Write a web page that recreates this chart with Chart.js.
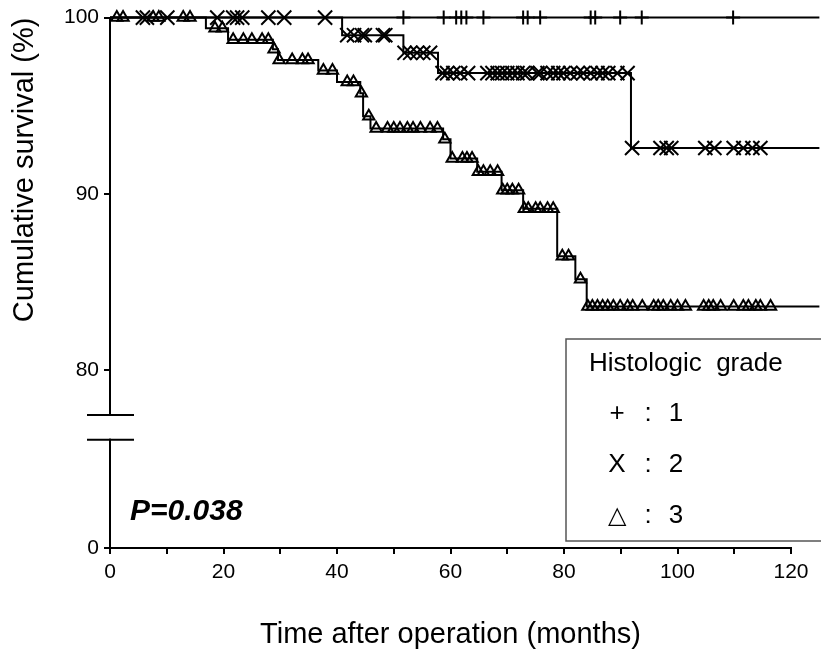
<!DOCTYPE html>
<html>
<head>
<meta charset="utf-8">
<script src="https://cdn.jsdelivr.net/npm/chart.js@4.4.1/dist/chart.umd.min.js"></script>
<style>
  body { margin: 0; background: #fff; }
  canvas { display: block; }
</style>
</head>
<body>
<canvas id="chart" width="821" height="659"></canvas>
<script>
// ---- data ----
const x_ticks = [0, 10, 20, 30, 40, 50, 60, 70, 80, 90, 100, 110, 120];
const y_ticks = [80, 90, 100];
const y_axis_zero = 69.9; // the "0" sits under the axis break
const y_break = [77.45, 76.05];

const grade1_times = [0, 125];
const grade1_surv = [100, 100];
const grade1_censored = [51.7, 58.8, 61.0, 61.9, 62.8, 65.8, 72.8, 73.6, 75.8,
  84.7, 85.5, 89.9, 93.7, 109.8];

const grade2_times = [0, 40.9, 51.7, 57.8, 91.8, 125];
const grade2_surv = [100, 99.0, 98.0, 96.85, 92.6, 92.6];
const grade2_censored = [5.8, 6.5, 10.1, 18.9, 21.7, 22.4, 23.3, 27.9, 30.7, 37.9,
  41.8, 43.0, 44.4, 44.9, 48.1, 48.5,
  51.9, 52.9, 54.1, 55.2, 56.4,
  58.6, 59.4, 60.5, 61.7, 63.1, 66.5, 67.4, 68.3, 69.1, 70.0, 70.9, 71.8, 72.8,
  73.5, 75.3, 75.8, 77.1, 78.1, 79.0, 79.9, 81.1, 82.4, 83.4, 84.7, 85.9, 86.8,
  87.8, 89.4, 91.2,
  92.0, 97.0, 98.1, 98.9, 104.9, 106.5, 109.9, 111.6, 113.2, 114.6];

const grade3_times = [0, 16.9, 20.8, 28.7, 29.6, 36.7, 40.0, 44.1, 44.6, 45.9,
  58.7, 60.0, 64.7, 69.0, 72.8, 78.8, 82.0, 84.0, 125];
const grade3_surv = [100, 99.4, 98.75, 98.2, 97.6, 97.0, 96.35, 95.7, 94.4, 93.7,
  93.1, 92.0, 91.25, 90.2, 89.15, 86.45, 85.15, 83.6, 83.6];
const grade3_censored = [1.2, 2.3, 7.6, 8.6, 12.9, 14.1,
  18.5, 19.8,
  21.7, 23.5, 25.0, 26.8, 27.9,
  28.9,
  29.8, 32.1, 33.9, 34.9,
  37.6, 39.2,
  41.8, 42.9,
  44.3,
  45.6, 46.9, 48.9, 50.0, 51.1, 52.4, 53.4, 54.7, 56.4, 57.7,
  59.0,
  60.3, 62.1, 62.9, 63.8,
  64.9, 65.8, 67.0, 68.3,
  69.2, 70.0, 70.9, 72.0,
  73.0, 73.7, 75.0, 75.8, 77.1, 78.1,
  79.7, 80.8,
  82.9,
  84.2, 85.0, 85.9, 86.8, 87.7, 88.7, 89.9, 91.2, 92.1, 93.8, 95.8, 96.6, 97.5,
  98.8, 100.0, 101.4, 104.6, 105.5, 106.3, 107.6, 109.9, 111.6, 112.5, 113.8,
  114.6, 116.4];

const legend_title = "Histologic  grade";
const legend_symbols = ["+", "X", "\u25B3"];
const legend_labels = ["1", "2", "3"];
const p_value_text = "P=0.038";

const FONT = "'Liberation Sans', Arial, sans-serif";

function survAt(times, surv, t) {
  let s = surv[0];
  for (let i = 0; i < times.length; i++) {
    if (times[i] <= t) s = surv[i];
  }
  return s;
}

function stepLine(times, surv) {
  return {
    type: "line",
    data: times.map((t, i) => ({ x: t, y: surv[i] })),
    stepped: true,
    borderColor: "#000",
    borderWidth: 2,
    pointRadius: 0,
    fill: false,
    clip: false,
  };
}

function censorMarks(times, surv, censored, style, radius) {
  return {
    type: "scatter",
    data: censored.map((t) => ({ x: t, y: survAt(times, surv, t) })),
    pointStyle: style,
    pointRadius: radius,
    borderColor: "#000",
    backgroundColor: "rgba(0,0,0,0)",
    borderWidth: 2,
    clip: false,
  };
}

const overlay = {
  id: "overlay",
  afterDraw(chart) {
    const ctx = chart.ctx;
    const xs = chart.scales.x;
    const ys = chart.scales.y;
    const ax = xs.getPixelForValue(0);
    const b1 = ys.getPixelForValue(y_break[0]);
    const b2 = ys.getPixelForValue(y_break[1]);

    ctx.save();
    // axis break
    ctx.fillStyle = "#fff";
    ctx.fillRect(ax - 3, b1 + 1, 6, b2 - b1 - 2);
    ctx.strokeStyle = "#000";
    ctx.lineWidth = 2;
    ctx.beginPath();
    ctx.moveTo(ax - 23, b1); ctx.lineTo(ax + 24, b1);
    ctx.moveTo(ax - 23, b2); ctx.lineTo(ax + 24, b2);
    ctx.stroke();

    // p value
    ctx.fillStyle = "#000";
    ctx.font = "italic bold 30px " + FONT;
    ctx.textBaseline = "middle";
    ctx.textAlign = "left";
    ctx.fillText(p_value_text, 130, 512);

    // legend box
    ctx.strokeStyle = "#555";
    ctx.lineWidth = 1.5;
    ctx.strokeRect(566, 339, 260, 202);
    ctx.font = "26px " + FONT;
    ctx.fillText(legend_title, 589, 364);
    for (let i = 0; i < legend_labels.length; i++) {
      const yy = 414 + i * 51;
      ctx.textAlign = "center";
      ctx.font = (i === 2 ? "24px " : "26px ") + FONT;
      ctx.fillText(legend_symbols[i], 617, yy);
      ctx.font = "26px " + FONT;
      ctx.fillText(":", 648, yy);
      ctx.fillText(legend_labels[i], 676, yy);
    }
    ctx.restore();
  },
};

function main() {
  Chart.defaults.font.family = FONT;
  Chart.defaults.color = "#000";

  const config = {
    type: "scatter",
    data: {
      datasets: [
        stepLine(grade1_times, grade1_surv),
        stepLine(grade2_times, grade2_surv),
        stepLine(grade3_times, grade3_surv),
        censorMarks(grade1_times, grade1_surv, grade1_censored, "cross", 7),
        censorMarks(grade2_times, grade2_surv, grade2_censored, "crossRot", 10),
        censorMarks(grade3_times, grade3_surv, grade3_censored, "triangle", 6.5),
      ],
    },
    options: {
      responsive: false,
      animation: false,
      layout: { padding: { top: 15, right: 30, left: 0, bottom: 0 } },
      plugins: { legend: { display: false }, tooltip: { enabled: false } },
      scales: {
        x: {
          type: "linear",
          min: 0,
          max: 120,
          afterFit: (s) => { s.height = 111; },
          afterBuildTicks: (s) => { s.ticks = x_ticks.map((v) => ({ value: v })); },
          ticks: {
            autoSkip: false,
            maxRotation: 0,
            padding: 6,
            font: { size: 21 },
            callback: (v) => (v % 20 === 0 ? String(v) : ""),
          },
          grid: { drawOnChartArea: false, tickLength: 6, color: "#000", lineWidth: 2 },
          border: { color: "#000", width: 2 },
          title: {
            display: true,
            text: "Time after operation (months)",
            font: { size: 29 },
            padding: { top: 0, bottom: 7 },
          },
        },
        y: {
          type: "linear",
          min: y_axis_zero,
          max: 100,
          afterFit: (s) => { s.width = 110; },
          afterBuildTicks: (s) => {
            s.ticks = [y_axis_zero].concat(y_ticks).map((v) => ({ value: v }));
          },
          ticks: {
            padding: 5,
            font: { size: 21 },
            callback: (v) => (v === y_axis_zero ? "0" : String(v)),
          },
          grid: { drawOnChartArea: false, tickLength: 6, color: "#000", lineWidth: 2 },
          border: { color: "#000", width: 2 },
          title: {
            display: true,
            text: "Cumulative survival (%)",
            align: "end",
            font: { size: 29 },
            padding: { top: 8, bottom: 0 },
          },
        },
      },
    },
    plugins: [overlay],
  };

  new Chart(document.getElementById("chart"), config);
}

document.addEventListener("DOMContentLoaded", main, false);
</script>
</body>
</html>
